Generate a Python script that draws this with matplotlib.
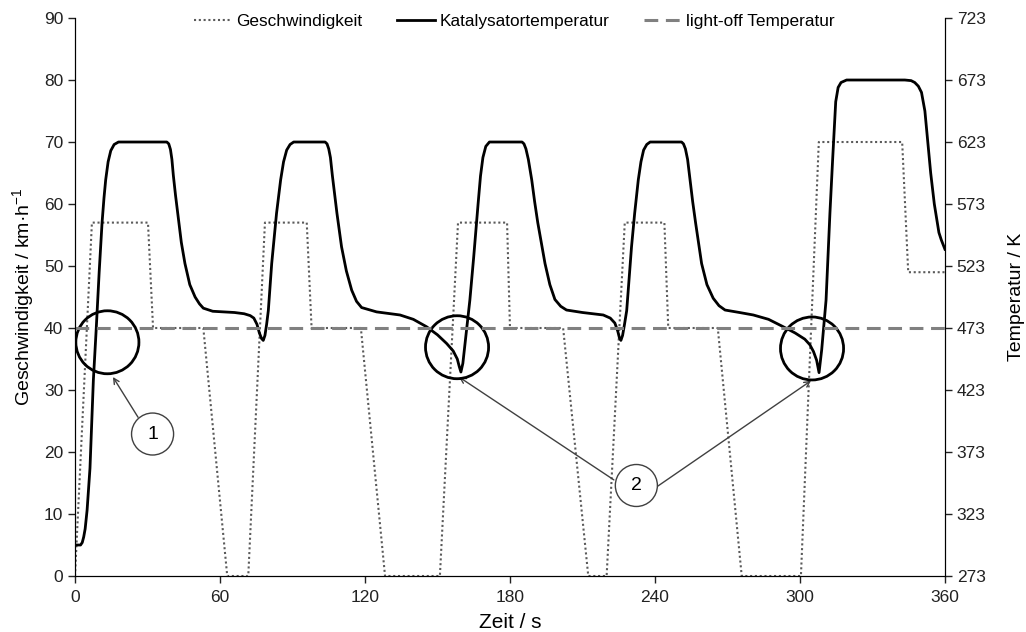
import matplotlib
matplotlib.use("Agg")
import matplotlib.pyplot as plt
from matplotlib.patches import Ellipse

plt.rcParams['font.family'] = ['Liberation Sans', 'DejaVu Sans']

# Geschwindigkeit (km/h) über der Zeit (s)
speed_t = [0, 7.0, 30.2, 32.3, 53.1, 63.0, 71.7, 78.6, 95.9, 97.9, 118.3, 128.3,
           151.0, 158.5, 178.8, 180.0, 202.0, 212.4, 220.0, 227.5, 243.9, 245.5,
           266.0, 275.9, 300.4, 307.8, 342.3, 344.8, 360.0]
speed_v = [0, 57, 57, 40, 40, 0, 0, 57, 57, 40, 40, 0,
           0, 57, 57, 40, 40, 0, 0, 57, 57, 40,
           40, 0, 0, 70, 70, 49, 49]

# Katalysatortemperatur (K)
temp_t = [0, 2.3, 3.0, 3.6, 4.2, 5.0, 6.2, 7.6, 8.8, 10.0, 11.2, 12.0, 12.7, 13.7, 14.8,
          16.2, 18.0,
          38.0, 38.8, 39.5, 40.1, 40.7, 41.6, 42.5, 44.0, 45.5, 47.5, 49.7, 51.5, 53.1,
          57.0, 66.0, 70.0, 72.5, 74.0, 75.3, 76.3, 77.2, 77.9, 78.6, 79.3, 80.0, 81.4,
          83.4, 84.3, 85.1, 86.3, 87.6, 89.0, 90.5,
          103.5, 104.3, 105.0, 105.7, 106.5, 107.5, 108.4, 110.3, 112.3, 114.5, 116.5,
          118.6, 124.8, 134.5, 140.0, 145.5, 150.0, 153.8, 156.5, 158.2, 159.0, 159.7,
          160.5, 161.4, 163.4, 165.0, 166.8, 167.8, 168.8, 170.0, 171.5,
          185.0, 185.8, 186.6, 187.6, 189.0, 190.2, 191.5, 194.5, 196.5, 198.6, 201.0,
          203.4, 210.0, 218.6, 221.5, 223.4, 224.6, 225.3, 225.9, 226.6, 227.4, 228.3,
          230.3, 231.6, 232.4, 233.1, 234.2, 235.3, 236.6, 238.0,
          251.0, 251.8, 252.6, 253.5, 254.5, 255.6, 256.8, 259.3, 261.5, 264.1, 266.5,
          269.0, 275.0, 280.7, 287.0, 293.1, 298.0, 302.0, 304.1, 305.6, 306.9, 307.9,
          309.0, 310.8, 312.4, 313.5, 314.8, 315.8, 317.0, 319.3,
          343.4, 346.0, 347.5, 349.0, 350.3, 351.7, 354.1, 355.6, 357.5, 358.5, 360.0]
temp_k = [298, 298, 300, 304.5, 311, 326, 360, 431, 473, 518, 558, 578, 592.5, 607, 616,
          621, 623,
          623, 621.5, 617, 609, 596, 580, 565.5, 542, 525, 508, 498, 492.5, 489,
          486.5, 485.5, 484.5, 483, 481, 476, 469, 464.5, 463, 467, 476, 487, 525,
          565.5, 580, 592.5, 607, 616.5, 621, 623,
          623, 621.5, 617.5, 610.5, 596, 580, 565.5, 538.5, 519, 503.5, 494.5,
          489.5, 486, 483.5, 480, 474, 467.5, 460.5, 454.5, 448, 442, 437.5,
          444.5, 460.5, 495.5, 530.5, 573, 595.5, 610.5, 619.5, 623,
          623, 621.5, 617.5, 609, 592.5, 575, 558, 525, 508, 496, 490.5,
          487.5, 485.5, 483.5, 481, 477, 470.5, 465, 463, 467, 476, 487,
          538.5, 565.5, 580, 592.5, 607, 616.5, 621, 623,
          623, 621.5, 617.5, 609, 592.5, 575, 558, 525, 508, 497, 491,
          487.5, 485.5, 483.5, 480, 474, 469, 464, 459.5, 454, 447, 437,
          455.5, 495.5, 565.5, 608, 655.5, 667, 671, 673,
          673, 672.5, 671, 668, 663, 648, 598, 573, 550, 544, 536.5]

light_off_k = 473

fig = plt.figure(figsize=(10.26, 6.32), dpi=100)
ax = fig.add_subplot(111)
fig.subplots_adjust(left=0.0731, right=0.921, bottom=0.0886, top=0.9715)
ax2 = ax.twinx()

l1, = ax.plot(speed_t, speed_v, color='#5a5a5a', lw=1.5, linestyle=(0, (1, 1.3)),
              label='Geschwindigkeit')
l2, = ax2.plot(temp_t, temp_k, color='black', lw=2, solid_joinstyle='round',
               label='Katalysatortemperatur')
l3, = ax2.plot([0, 360], [light_off_k, light_off_k], color='#808080', lw=2.2,
               linestyle=(0, (4.5, 2.5)), label='light-off Temperatur')

ax.set_xlim(0, 360)
ax.set_ylim(0, 90)
ax2.set_ylim(273, 723)
ax.set_xticks(range(0, 361, 60))
ax.set_yticks(range(0, 91, 10))
ax2.set_yticks(range(273, 724, 50))

for a in (ax, ax2):
    a.spines['top'].set_visible(False)
    a.tick_params(direction='out', length=5, width=1, labelsize=12.5, colors='#222222')
ax.tick_params(axis='x', pad=5)

ax.set_xlabel('Zeit / s', fontsize=15, labelpad=6)
ax.set_ylabel(r'Geschwindigkeit / km·h$^{\mathregular{-1}}$', fontsize=14, labelpad=5)
ax2.set_ylabel('Temperatur / K', fontsize=14, labelpad=16)

ax2.legend(handles=[l1, l2, l3], loc='upper center', bbox_to_anchor=(0.505, 1.035),
           ncol=3, frameon=False, fontsize=12.4, handlelength=2.2,
           handletextpad=0.25, columnspacing=2.0)

# Markierungen
for cx, cy in [(13.4, 37.7), (158.1, 36.9), (305.0, 36.7)]:
    ax.add_patch(Ellipse((cx, cy), 26.1, 10.16, fill=False, ec='black', lw=2, zorder=5))

for cx, cy, txt in [(32.1, 22.9, '1'), (232.3, 14.6, '2')]:
    ax.add_patch(Ellipse((cx, cy), 17.4, 6.77, fc='white', ec='#404040', lw=1, zorder=6))
    ax.text(cx, cy, txt, ha='center', va='center', fontsize=14, zorder=7)

arrows = [((26.1, 25.6), (15.7, 32.1)),
          ((223.0, 15.5), (158.9, 32.1)),
          ((240.8, 14.4), (304.6, 31.5))]
for tail, head in arrows:
    ax.annotate('', xy=head, xytext=tail,
                arrowprops=dict(arrowstyle='->', color='#404040', lw=1,
                                shrinkA=0, shrinkB=0))

fig.savefig('out.png', dpi=100)
